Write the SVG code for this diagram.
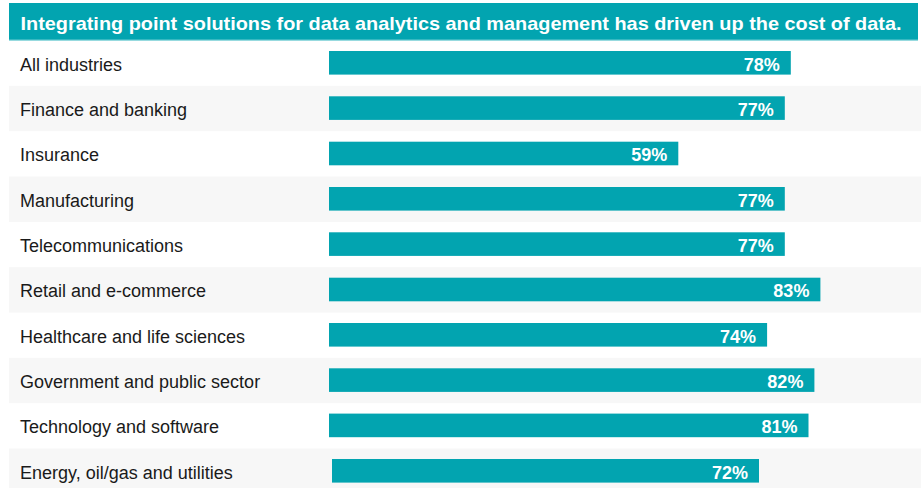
<svg xmlns="http://www.w3.org/2000/svg" width="923" height="488" viewBox="0 0 923 488">
<style>
.bg{fill:#f7f7f7}
.bar{fill:#02a4b0}
.lbl{font-family:"Liberation Sans",Arial,sans-serif;font-size:18px;fill:#1a1a1a}
.val{font-family:"Liberation Sans",Arial,sans-serif;font-size:18px;font-weight:bold;fill:#ffffff;text-anchor:end}
.title{font-family:"Liberation Sans",Arial,sans-serif;font-size:19px;font-weight:bold;fill:#ffffff}
</style>
<rect width="923" height="488" fill="#ffffff"/>
<g id="header">
<rect x="9" y="3" width="909" height="37" fill="#02a4b0"/>
<rect x="9" y="39.5" width="909" height="1.2" fill="#6ccbd2"/>
<text class="title" x="20.5" y="29.5" textLength="881" lengthAdjust="spacingAndGlyphs">Integrating point solutions for data analytics and management has driven up the cost of data.</text>
</g>
<g id="row-backgrounds">
<rect class="bg" x="9" y="85.8" width="912" height="45.4"/>
<rect class="bg" x="9" y="176.5" width="912" height="45.4"/>
<rect class="bg" x="9" y="267.2" width="912" height="45.4"/>
<rect class="bg" x="9" y="357.8" width="912" height="45.4"/>
<rect class="bg" x="9" y="448.5" width="912" height="39.5"/>
</g>
<g id="row1"><text class="lbl" x="20" y="70.5">All industries</text><rect class="bar" x="329" y="51" width="461.8" height="23.6"/><text class="val" x="779.8" y="70.5">78%</text></g>
<g id="row2"><text class="lbl" x="20" y="115.8">Finance and banking</text><rect class="bar" x="329" y="96.3" width="455.8" height="23.6"/><text class="val" x="773.8" y="115.8">77%</text></g>
<g id="row3"><text class="lbl" x="20" y="161.2">Insurance</text><rect class="bar" x="329" y="141.7" width="349.3" height="23.6"/><text class="val" x="667.3" y="161.2">59%</text></g>
<g id="row4"><text class="lbl" x="20" y="206.5">Manufacturing</text><rect class="bar" x="329" y="187" width="455.8" height="23.6"/><text class="val" x="773.8" y="206.5">77%</text></g>
<g id="row5"><text class="lbl" x="20" y="251.8">Telecommunications</text><rect class="bar" x="329" y="232.3" width="455.8" height="23.6"/><text class="val" x="773.8" y="251.8">77%</text></g>
<g id="row6"><text class="lbl" x="20" y="297.2">Retail and e-commerce</text><rect class="bar" x="329" y="277.7" width="491.4" height="23.6"/><text class="val" x="809.4" y="297.2">83%</text></g>
<g id="row7"><text class="lbl" x="20" y="342.5">Healthcare and life sciences</text><rect class="bar" x="329" y="323" width="438.1" height="23.6"/><text class="val" x="756.1" y="342.5">74%</text></g>
<g id="row8"><text class="lbl" x="20" y="387.8">Government and public sector</text><rect class="bar" x="329" y="368.3" width="485.4" height="23.6"/><text class="val" x="803.4" y="387.8">82%</text></g>
<g id="row9"><text class="lbl" x="20" y="433.1">Technology and software</text><rect class="bar" x="329" y="413.6" width="479.5" height="23.6"/><text class="val" x="797.5" y="433.1">81%</text></g>
<g id="row10"><text class="lbl" x="20" y="478.5">Energy, oil/gas and utilities</text><rect class="bar" x="332" y="459" width="427" height="23.6"/><text class="val" x="748" y="478.5">72%</text></g>
<g id="connectors"/>
</svg>
